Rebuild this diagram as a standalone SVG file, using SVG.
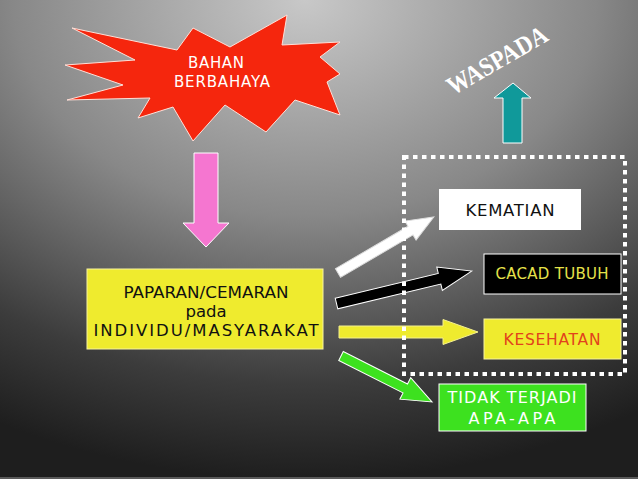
<svg xmlns="http://www.w3.org/2000/svg" width="638" height="479" viewBox="0 0 638 479">
<defs>
<radialGradient id="bg" gradientUnits="userSpaceOnUse" cx="305" cy="0" r="480" gradientTransform="translate(305 0) scale(1.35 1) translate(-305 0)">
<stop offset="0" stop-color="#c8c8c8"/>
<stop offset="0.45" stop-color="#888888"/>
<stop offset="0.8" stop-color="#3c3c3c"/>
<stop offset="1" stop-color="#1e1e1e"/>
</radialGradient>
<style>
.t{font-family:"DejaVu Sans","Liberation Sans",sans-serif;text-anchor:middle}
.arw{stroke:#ffffff;stroke-width:1;stroke-linejoin:miter}
</style>
</defs>
<rect x="0" y="0" width="638" height="479" fill="url(#bg)"/>
<rect x="0" y="477" width="638" height="2" fill="#5a5a5a"/>

<g id="bahan">
<polygon points="72,28 177,50 193,28 230,47 287,15 282,45 340,42 320,57 340,74 327,82 340,115 295,100 266,132 225,105 193,141 173,107 138,118 150,98 67,100 123,85 65,65 135,60" fill="#f5260d" stroke="#ffe0d8" stroke-width="1"/>
<text class="t" x="216" y="68" font-size="15" fill="#ffffff" textLength="56" lengthAdjust="spacing">BAHAN</text>
<text class="t" x="222" y="87" font-size="15" fill="#ffffff" textLength="96" lengthAdjust="spacing">BERBAHAYA</text>
</g>

<g id="waspada">
<text x="497" y="69" transform="rotate(-30 497 60)" font-family="'Liberation Serif','DejaVu Serif',serif" font-weight="bold" font-size="26" fill="#ffffff" text-anchor="middle" textLength="112" lengthAdjust="spacingAndGlyphs">WASPADA</text>
<polygon points="503,143 503,98 494,98 513,83 531,98 522,98 522,143" fill="#10999a" stroke="#ffffff" stroke-width="1"/>
</g>

<g id="paparan">
<polygon points="194,153 218,153 218,223 229,223 206,247 183,223 194,223" fill="#f576d0" stroke="#ffffff" stroke-width="1"/>
<rect x="87" y="269" width="236" height="80" fill="#efeb2e" stroke="#f7f3a0" stroke-width="1"/>
<text class="t" x="206" y="298" font-size="16.5" fill="#111111" textLength="165" lengthAdjust="spacingAndGlyphs">PAPARAN/CEMARAN</text>
<text class="t" x="206" y="317" font-size="16.5" fill="#111111">pada</text>
<text class="t" x="206" y="336" font-size="16.5" fill="#111111" textLength="225" lengthAdjust="spacing">INDIVIDU/MASYARAKAT</text>
</g>

<g id="connectors">
<polygon transform="translate(338 273) rotate(-30.3)" points="0,-5 84,-5 84,-11 111,0 84,11 84,5 0,5" fill="#ffffff" stroke="#dddddd" stroke-width="1"/>
<polygon class="arw" transform="translate(336.5 303.5) rotate(-13.5)" points="0,-5.5 106,-5.5 106,-12 139,0 106,12 106,5.5 0,5.5" fill="#000000"/>
<polygon transform="translate(339 332)" points="0,-6 104,-6 104,-12.5 139,0 104,12.5 104,6 0,6" fill="#efeb2e" stroke="#f4f090" stroke-width="1"/>
<polygon class="arw" transform="translate(341 356) rotate(26.8)" points="0,-5 72,-5 72,-12 102,0 72,12 72,5 0,5" fill="#3de11f"/>
</g>

<g id="group-box">
<rect x="404" y="157" width="221" height="217" fill="none" stroke="#ffffff" stroke-width="4" stroke-dasharray="4.5 4.5"/>
</g>

<g id="kematian">
<rect x="439" y="189" width="142" height="41" fill="#ffffff"/>
<text class="t" x="510" y="216" font-size="16.5" fill="#111111" textLength="89" lengthAdjust="spacing">KEMATIAN</text>
</g>

<g id="cacad">
<rect x="484" y="254" width="137" height="40" fill="#000000" stroke="#ffffff" stroke-width="1"/>
<text class="t" x="552" y="279" font-size="15" fill="#e6e24a" textLength="113" lengthAdjust="spacing">CACAD TUBUH</text>
</g>

<g id="kesehatan">
<rect x="484" y="319" width="137" height="40" fill="#efeb2e" stroke="#f7f3a0" stroke-width="1"/>
<text class="t" x="552" y="345" font-size="15.5" fill="#e2421c" textLength="97" lengthAdjust="spacing">KESEHATAN</text>
</g>

<g id="tidak">
<rect x="439" y="384" width="147" height="47" fill="#3de11f" stroke="#ffffff" stroke-width="1"/>
<text class="t" x="512" y="403" font-size="16" fill="#ffffff" textLength="129" lengthAdjust="spacing">TIDAK TERJADI</text>
<text class="t" x="512" y="424" font-size="16" fill="#ffffff" textLength="87" lengthAdjust="spacing">APA-APA</text>
</g>
</svg>
